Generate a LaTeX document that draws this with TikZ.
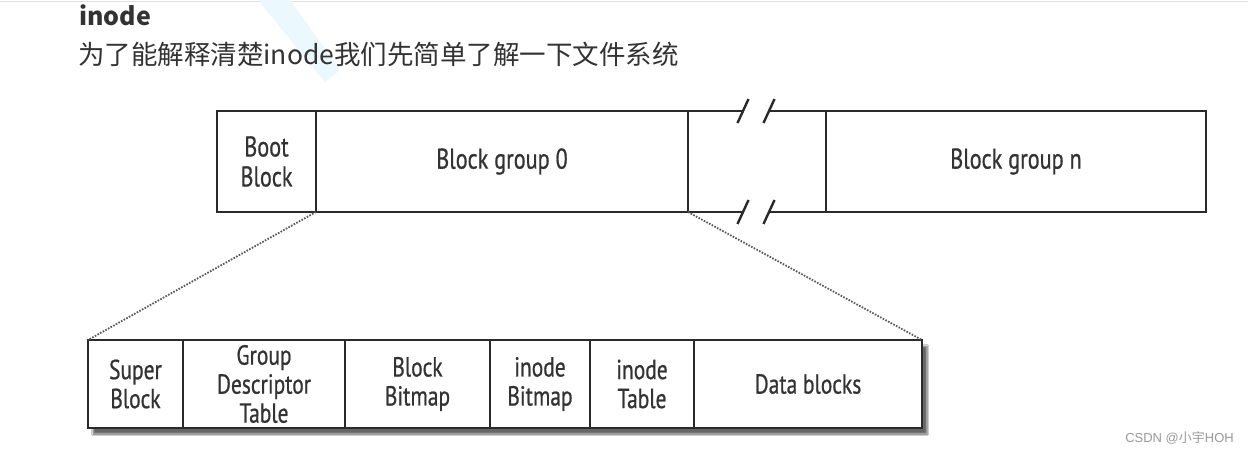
\documentclass[tikz,border=0pt]{standalone}
\usepackage{fontspec}
\usetikzlibrary{shadows.blur}
\newfontfamily\cjk{Noto Sans CJK SC}
\newfontfamily\cond[FakeStretch=0.78,FakeBold=0.7]{PT Sans}
\newfontfamily\foot{Liberation Sans}
\definecolor{ink}{HTML}{333333}
\definecolor{boxline}{HTML}{2A2A2A}
\definecolor{boxtext}{HTML}{333333}
\tikzset{
  cell/.style={draw=boxline, line width=2.4pt, minimum height=101pt, inner sep=0pt, outer sep=0pt,
    font=\cond\fontsize{28.5}{30}\selectfont, text=boxtext, align=center},
  sub/.style={draw=boxline, line width=2pt, minimum height=88pt, inner sep=0pt, outer sep=0pt,
    font=\cond\fontsize{27.5}{29}\selectfont, text=boxtext, align=center},
  brk/.style={draw=boxline, line width=2.4pt},
  zoomline/.style={draw=gray!70!black, line width=1.8pt, dash pattern=on 1.6pt off 1.4pt}
}
\begin{document}
\begin{tikzpicture}[x=1pt,y=-1pt]
\useasboundingbox (0,0) rectangle (1248,452);
\fill[white] (0,0) rectangle (1248,452);
\draw[gray!25, line width=1pt] (0,1.5) -- (1248,1.5);
% watermark hint
\fill[cyan!8] (258,0) -- (290,0) -- (340,70) -- (325,82) -- cycle;
% titles
\node[anchor=base west, inner sep=0pt, text=ink, font=\cjk\bfseries\fontsize{25}{25}\selectfont] (title) at (79,26) {inode};
\node[anchor=base west, inner sep=0pt, text=ink, font=\cjk\fontsize{26.5}{26.5}\selectfont] (sub) at (78,65) {为了能解释清楚inode我们先简单了解一下文件系统};
% top row
\node[cell, minimum width=99pt] (boot) at (266.5,161.5) {Boot\\Block};
\node[cell, minimum width=372pt] (bg0) at (502,161.5) {Block group 0};
\node[cell, minimum width=380pt] (bgn) at (1016,161.5) {Block group n};
\coordinate (t1) at (743,111);
\coordinate (t2) at (769,111);
\coordinate (b1) at (743,212);
\coordinate (b2) at (769,212);
\draw[brk] (bg0.north east) -- (t1);
\draw[brk] (t2) -- (bgn.north west);
\draw[brk] (bg0.south east) -- (b1);
\draw[brk] (b2) -- (bgn.south west);
\draw[brk] ([shift={(-5.5,12)}]t1) -- ([shift={(5.5,-12)}]t1);
\draw[brk] ([shift={(-5.5,12)}]t2) -- ([shift={(5.5,-12)}]t2);
\draw[brk] ([shift={(-5.5,12)}]b1) -- ([shift={(5.5,-12)}]b1);
\draw[brk] ([shift={(-5.5,12)}]b2) -- ([shift={(5.5,-12)}]b2);
% bottom group
\node[draw=boxline, line width=2pt, fill=white, minimum width=834pt, minimum height=88pt, inner sep=0pt, outer sep=0pt,
  blur shadow={shadow xshift=5pt, shadow yshift=-6pt, shadow blur steps=6, shadow opacity=60}] (grp) at (505,384) {};
\node[sub, minimum width=95pt] (sb) at (135.5,384) {Super\\Block};
\node[sub, minimum width=162pt] (gdt) at (264,384) {Group\\Descriptor\\Table};
\node[sub, minimum width=145pt] (bbm) at (417.5,384) {Block\\Bitmap};
\node[sub, minimum width=100pt] (ibm) at (540,384) {inode\\Bitmap};
\node[sub, minimum width=104pt] (itb) at (642,384) {inode\\Table};
\node[sub, minimum width=228pt] (db) at (808,384) {Data blocks};
% zoom connectors
\draw[zoomline] (bg0.south west) -- (grp.north west);
\draw[zoomline] (bg0.south east) -- (grp.north east);
% footer
\node[anchor=base east, inner sep=0pt, text=gray!80, font=\foot\fontsize{13}{13}\selectfont] (csdn) at (1234,442) {CSDN @\cjk 小宇\foot HOH};
\end{tikzpicture}
\end{document}
